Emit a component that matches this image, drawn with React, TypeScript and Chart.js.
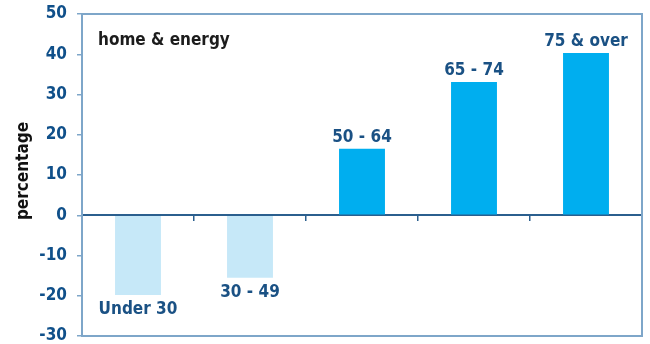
import React, { useEffect, useRef } from 'react';
import { Chart, registerables } from 'chart.js';

Chart.register(...registerables);

// Age groups and the change (percentage) in home & energy spending
const categories = ['Under 30', '30 - 49', '50 - 64', '65 - 74', '75 & over'];
const values = [-19.8, -15.5, 16.5, 33.1, 40.3];
const yMin = -30;
const yMax = 50;
const yStep = 10;
const panelTitle = 'home & energy';
const axisTitle = 'percentage';

const NAVY = '#10508a';
const FRAME = '#7ea6c9';
const FONT = '"DejaVu Sans Condensed", "DejaVu Sans", sans-serif';

export default function App() {
  const canvasRef = useRef<HTMLCanvasElement>(null);

  useEffect(() => {
    const canvas = canvasRef.current;
    if (!canvas) return;

    const framePlugin = {
      id: 'frame',
      beforeDatasetsDraw(chart: any) {
        const { ctx, chartArea: a } = chart;
        ctx.save();
        ctx.strokeStyle = FRAME;
        ctx.lineWidth = 2;
        ctx.strokeRect(a.left, a.top, a.right - a.left, a.bottom - a.top);
        ctx.restore();
      },
    };

    const labelPlugin = {
      id: 'barLabels',
      afterDatasetsDraw(chart: any) {
        const { ctx, chartArea: a } = chart;
        ctx.save();
        // panel heading inside the plot
        ctx.font = `bold 17px ${FONT}`;
        ctx.fillStyle = '#1c1c1c';
        ctx.textAlign = 'left';
        ctx.textBaseline = 'alphabetic';
        ctx.fillText(panelTitle, a.left + 16, a.top + 31);

        // vertical axis title
        ctx.save();
        ctx.translate(24, (a.top + a.bottom) / 2 - 4);
        ctx.rotate(-Math.PI / 2);
        ctx.textAlign = 'center';
        ctx.textBaseline = 'middle';
        ctx.fillStyle = '#111111';
        ctx.fillText(axisTitle, 0, 0);
        ctx.restore();

        // category names sit just beyond each bar's end
        ctx.fillStyle = '#1a5184';
        ctx.textAlign = 'center';
        ctx.textBaseline = 'alphabetic';
        const meta = chart.getDatasetMeta(0);
        meta.data.forEach((bar: any, i: number) => {
          const v = values[i];
          const y = v >= 0 ? bar.y - 7 : bar.y + 19;
          ctx.fillText(categories[i], bar.x, y);
        });
        ctx.restore();
      },
    };

    const chart = new Chart(canvas, {
      type: 'bar',
      data: {
        labels: categories,
        datasets: [
          {
            data: values,
            backgroundColor: values.map((v) => (v < 0 ? '#c6e8f8' : '#00aeef')),
            borderWidth: 0,
            barPercentage: 0.41,
            categoryPercentage: 1,
          },
        ],
      },
      options: {
        responsive: false,
        animation: false,
        layout: { padding: { top: 14, right: 8, bottom: 8, left: 0 } },
        plugins: {
          legend: { display: false },
          tooltip: { enabled: false },
          title: { display: false },
        },
        scales: {
          x: {
            type: 'category',
            position: { y: 0 } as any,
            z: 1,
            grid: {
              drawOnChartArea: false,
              drawTicks: true,
              tickLength: 5,
              color: '#2b5f8e',
              lineWidth: 1.5,
              offset: true,
            },
            border: { display: true, color: '#2b5f8e', width: 2 },
            ticks: { display: false },
          },
          y: {
            min: yMin,
            max: yMax,
            ticks: {
              stepSize: yStep,
              color: NAVY,
              padding: 10,
              font: { family: FONT, size: 17, weight: 'bold' },
            },
            grid: {
              drawOnChartArea: false,
              drawTicks: true,
              tickLength: 5,
              color: FRAME,
              lineWidth: 1.5,
            },
            border: { display: true, color: FRAME, width: 2 },
            afterFit(scale: any) {
              scale.width = 82;
              scale.paddingTop = 0;
              scale.paddingBottom = 0;
            },
          },
        },
      },
      plugins: [framePlugin, labelPlugin],
    });

    return () => chart.destroy();
  }, []);

  return (
    <div style={{ position: 'absolute', left: 0, top: 0, width: 650, height: 344, background: '#ffffff' }}>
      <canvas ref={canvasRef} width={650} height={344} style={{ display: 'block' }} />
    </div>
  );
}
